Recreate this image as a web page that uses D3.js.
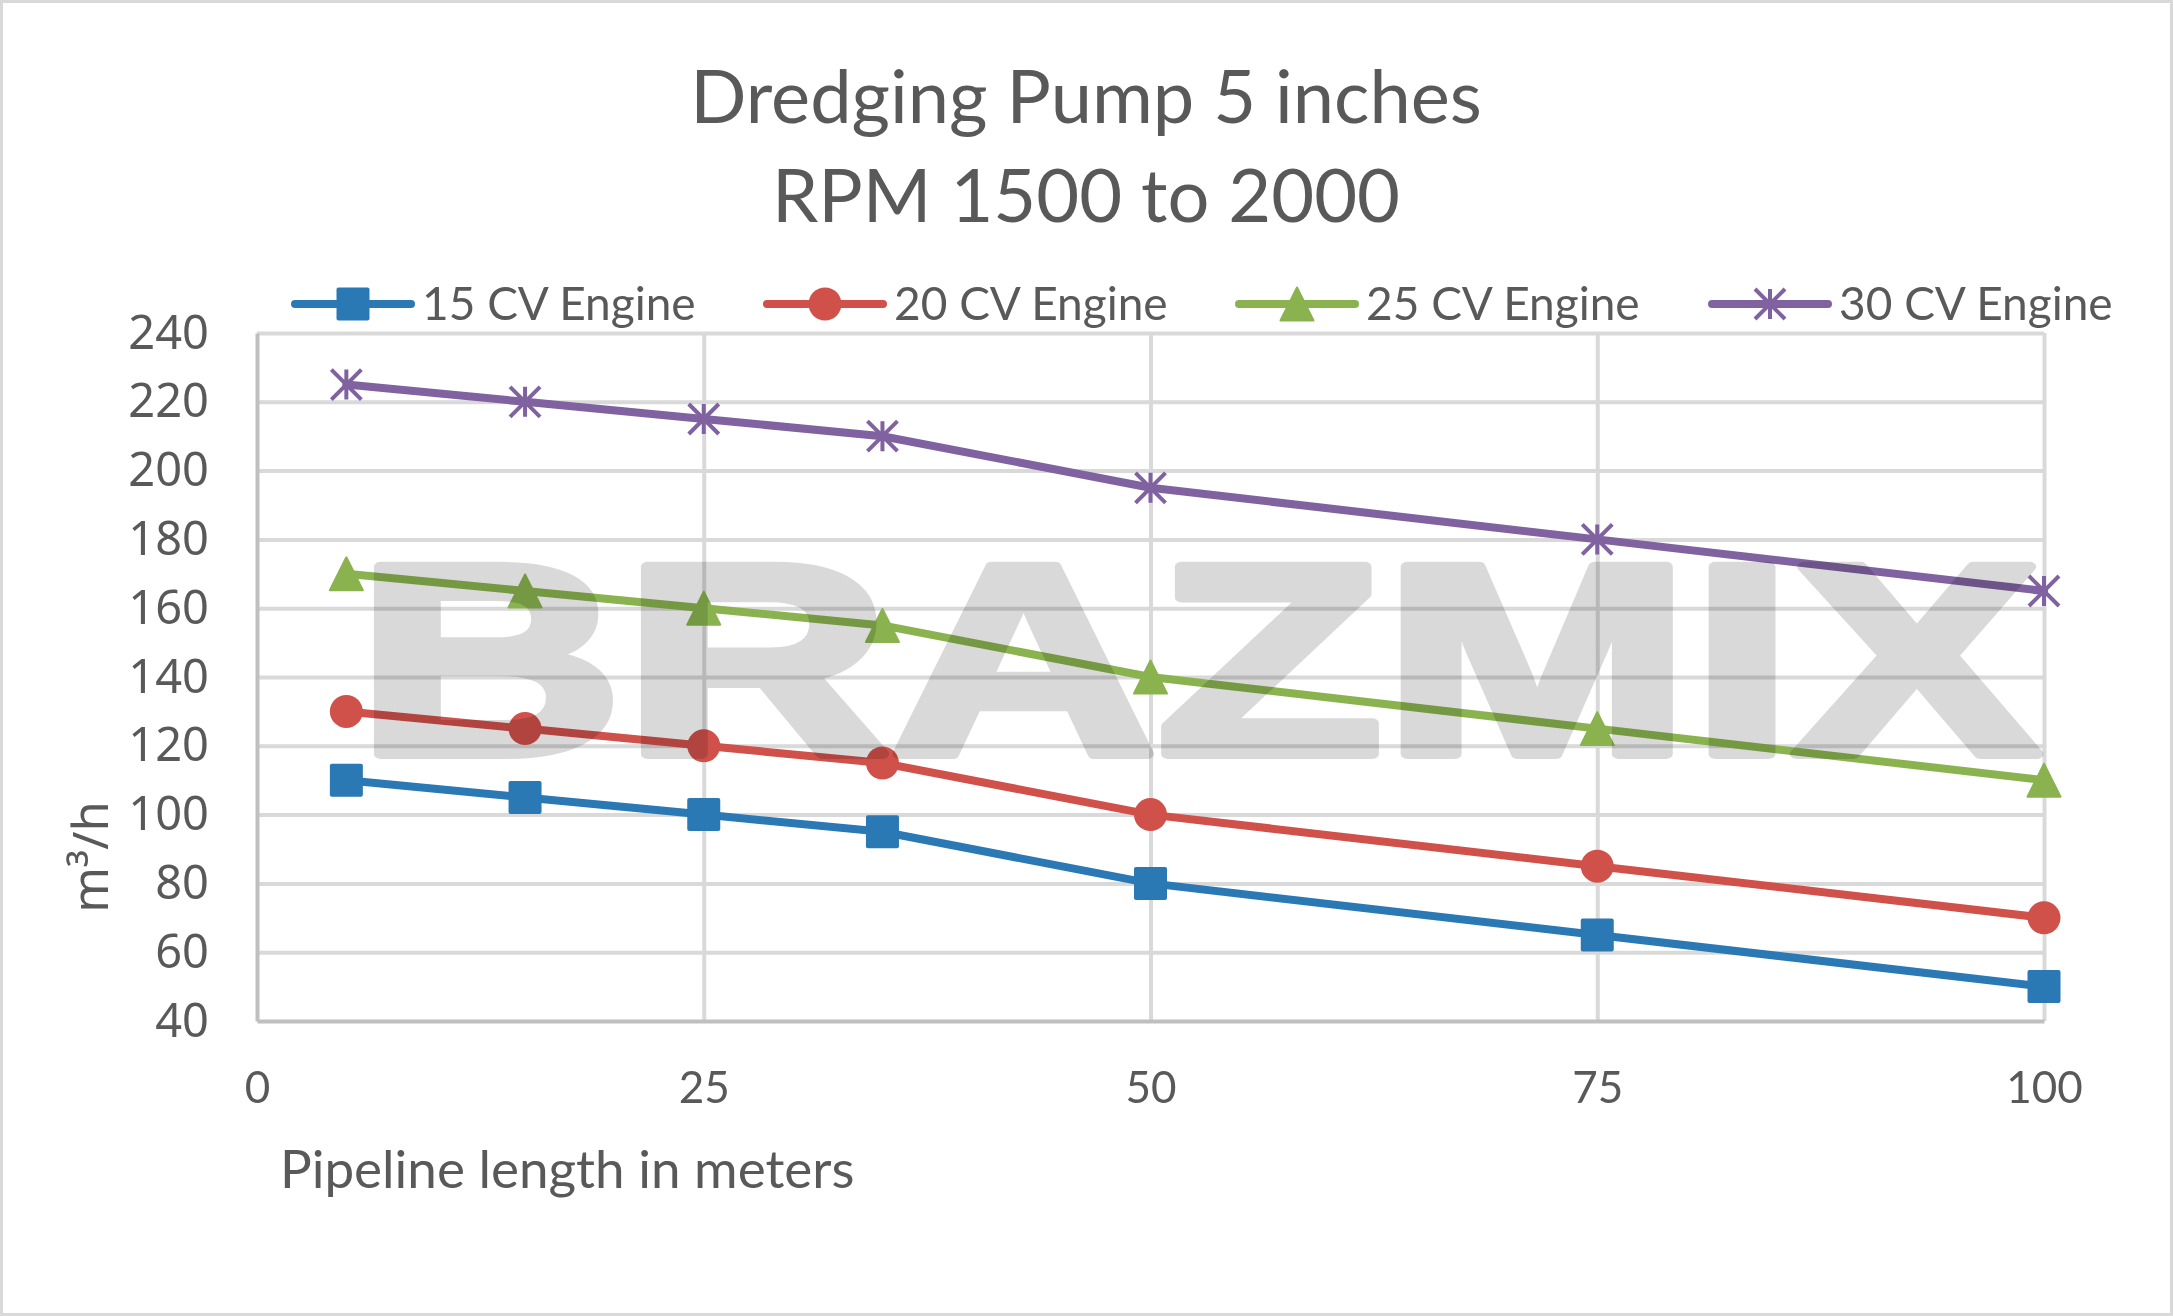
<!DOCTYPE html>
<html>
<head>
<meta charset="utf-8">
<script src="https://cdn.jsdelivr.net/npm/d3@7"></script>
<style>
  html, body { margin: 0; padding: 0; background: #fff; }
  svg { display: block; }
</style>
</head>
<body>
<div id="chart"></div>
<script>
// chart data
const distances = [5, 15, 25, 35, 50, 75, 100];
const engine15 = [110, 105, 100, 95, 80, 65, 50];
const engine20 = [130, 125, 120, 115, 100, 85, 70];
const engine25 = [170, 165, 160, 155, 140, 125, 110];
const engine30 = [225, 220, 215, 210, 195, 180, 165];
const seriesNames = ["15 CV Engine", "20 CV Engine", "25 CV Engine", "30 CV Engine"];
const xTicks = [0, 25, 50, 75, 100];
const yTicks = [40, 60, 80, 100, 120, 140, 160, 180, 200, 220, 240];
const titleLines = ["Dredging Pump 5 inches", "RPM 1500 to 2000"];

const W = 2173, H = 1316;
const margins = { left: 257, right: 2044, top: 333, bottom: 1021 };
const colors = ["#2a78b4", "#d0504a", "#8ab34f", "#8062a0"];
const markers = ["square", "circle", "triangle", "star"];
const calibri = "Lato, 'Open Sans', sans-serif";
const segoe = "'Noto Sans', 'Open Sans', sans-serif";
const textColor = "#595959";

const series = [engine15, engine20, engine25, engine30].map((vals, i) => ({
  name: seriesNames[i],
  color: colors[i],
  marker: markers[i],
  points: vals.map((v, j) => ({ x: distances[j], y: v }))
}));

const svg = d3.select("#chart").append("svg")
  .attr("width", W)
  .attr("height", H);

svg.append("rect")
  .attr("x", 1.5).attr("y", 1.5)
  .attr("width", W - 3).attr("height", H - 3)
  .attr("fill", "#fff")
  .attr("stroke", "#d9d9d9")
  .attr("stroke-width", 3);

const x = d3.scaleLinear().domain([0, 100]).range([margins.left, margins.right]);
const y = d3.scaleLinear().domain([40, 240]).range([margins.bottom, margins.top]);

// grid lines
const gridY = svg.append("g")
  .attr("transform", `translate(${margins.left},0)`)
  .call(d3.axisLeft(y).tickValues(yTicks.slice(1)).tickFormat("").tickSize(-(margins.right - margins.left)));
gridY.select(".domain").remove();
gridY.selectAll("line").attr("stroke", "#d9d9d9").attr("stroke-width", 4);

const gridX = svg.append("g")
  .attr("transform", `translate(0,${margins.bottom})`)
  .call(d3.axisBottom(x).tickValues(xTicks.slice(1)).tickFormat("").tickSize(-(margins.bottom - margins.top)));
gridX.select(".domain").remove();
gridX.selectAll("line").attr("stroke", "#d9d9d9").attr("stroke-width", 4);

// axes
const axisY = svg.append("g")
  .attr("transform", `translate(${margins.left},0)`)
  .call(d3.axisLeft(y).tickValues(yTicks).tickSize(0).tickPadding(48));
axisY.select(".domain").attr("stroke", "#bfbfbf").attr("stroke-width", 4);
axisY.selectAll("text")
  .attr("fill", textColor)
  .style("font-family", segoe)
  .style("font-size", "47px");

const axisX = svg.append("g")
  .attr("transform", `translate(0,${margins.bottom})`)
  .call(d3.axisBottom(x).tickValues(xTicks).tickSize(0));
axisX.select(".domain").attr("stroke", "#bfbfbf").attr("stroke-width", 4);
axisX.selectAll("text")
  .attr("y", 82)
  .attr("dy", null)
  .attr("fill", textColor)
  .style("font-family", calibri)
  .style("font-size", "44px");

// axis titles
svg.append("text")
  .attr("x", 280).attr("y", 1188)
  .attr("fill", textColor)
  .style("font-family", calibri)
  .style("font-size", "53px")
  .text("Pipeline length in meters");

svg.append("text")
  .attr("transform", "translate(108,857) rotate(-90)")
  .attr("text-anchor", "middle")
  .attr("fill", textColor)
  .style("font-family", segoe)
  .style("font-size", "49px")
  .text("m³/h");

// title
svg.append("g").selectAll("text")
  .data(titleLines)
  .enter().append("text")
    .attr("x", 1086)
    .attr("y", (d, i) => 123 + i * 99)
    .attr("text-anchor", "middle")
    .attr("fill", textColor)
    .style("font-family", calibri)
    .style("font-size", "74px")
    .text(d => d);

// marker drawing
function drawMarker(g, type, color) {
  const s = 33;
  if (type === "square") {
    g.append("rect").attr("x", -s / 2).attr("y", -s / 2).attr("width", s).attr("height", s)
      .attr("rx", 2).attr("fill", color);
  } else if (type === "circle") {
    g.append("circle").attr("r", s / 2).attr("fill", color);
  } else if (type === "triangle") {
    g.append("path").attr("d", `M0,${-s / 2} L${s / 2},${s / 2} L${-s / 2},${s / 2} Z`)
      .attr("fill", color).attr("stroke", color).attr("stroke-width", 2).attr("stroke-linejoin", "round");
  } else {
    const r = 15;
    g.append("path")
      .attr("d", `M${-r},${-r} L${r},${r} M${-r},${r} L${r},${-r} M0,${-r} L0,${r}`)
      .attr("stroke", color).attr("stroke-width", 4).attr("fill", "none");
  }
}

// lines
const line = d3.line()
  .x(d => x(d.x))
  .y(d => y(d.y));

const linesGroup = svg.append("g");
linesGroup.selectAll("path")
  .data(series)
  .enter().append("path")
    .attr("d", d => line(d.points))
    .attr("fill", "none")
    .attr("stroke", d => d.color)
    .attr("stroke-width", 8)
    .attr("stroke-linejoin", "round")
    .attr("stroke-linecap", "round");

series.forEach(s => {
  const g = svg.append("g");
  g.selectAll("g")
    .data(s.points)
    .enter().append("g")
      .attr("transform", d => `translate(${x(d.x)},${y(d.y)})`)
      .each(function () { drawMarker(d3.select(this), s.marker, s.color); });
});

// legend
const legendX = [295, 767, 1239, 1712];
const legend = svg.append("g");
series.forEach((s, i) => {
  const g = legend.append("g").attr("transform", `translate(${legendX[i]},304)`);
  g.append("line")
    .attr("x1", 0).attr("x2", 116)
    .attr("stroke", s.color)
    .attr("stroke-width", 8)
    .attr("stroke-linecap", "round");
  const m = g.append("g").attr("transform", "translate(58,0)");
  drawMarker(m, s.marker, s.color);
  g.append("text")
    .attr("x", 127).attr("y", 16)
    .attr("fill", textColor)
    .style("font-family", calibri)
    .style("font-size", "46px")
    .text(s.name);
});

// watermark
svg.append("text")
  .attr("x", 356).attr("y", 754)
  .attr("textLength", 1684)
  .attr("lengthAdjust", "spacingAndGlyphs")
  .attr("fill", "#d9d9d9")
  .attr("stroke", "#d9d9d9")
  .attr("stroke-width", 10)
  .attr("stroke-linejoin", "round")
  .style("mix-blend-mode", "multiply")
  .style("font-family", "'Liberation Sans', Arial, sans-serif")
  .style("font-weight", "bold")
  .style("font-size", "272px")
  .text("BRAZMIX");
</script>
</body>
</html>
